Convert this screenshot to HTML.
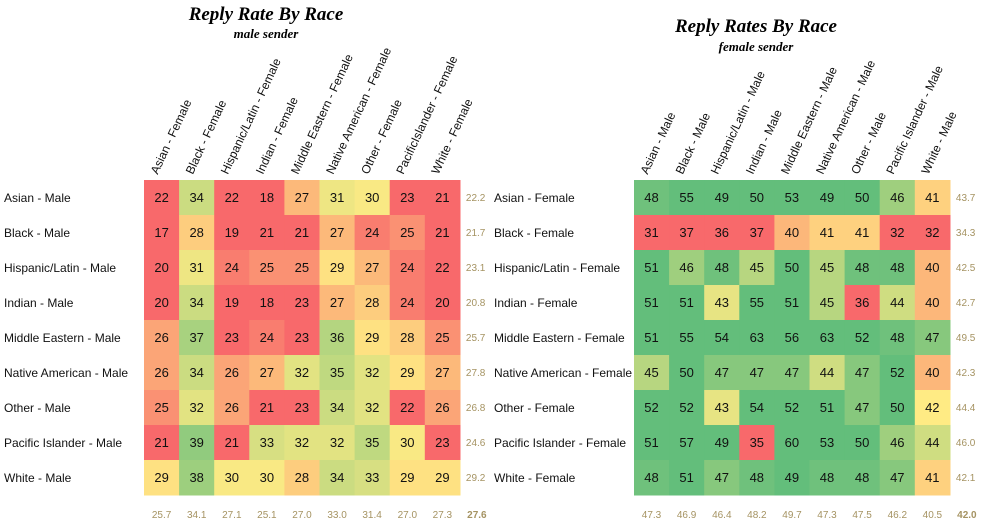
<!DOCTYPE html>
<html><head><meta charset="utf-8"><style>
body{margin:0;background:#fff;}
svg text{font-family:"Liberation Sans",sans-serif;}
.t{font-family:"Liberation Serif",serif;font-weight:bold;font-style:italic;}
</style></head><body>
<svg id="s" width="986" height="524" xmlns="http://www.w3.org/2000/svg">
<text class="t" x="266" y="20" font-size="19" text-anchor="middle">Reply Rate By Race</text>
<text class="t" x="266" y="38" font-size="13" text-anchor="middle">male sender</text>
<text class="t" x="756" y="32" font-size="19" text-anchor="middle">Reply Rates By Race</text>
<text class="t" x="756" y="51" font-size="13" text-anchor="middle">female sender</text>
</svg>
<script>
var L=[[22,34,22,18,27,31,30,23,21],[17,28,19,21,21,27,24,25,21],[20,31,24,25,25,29,27,24,22],[20,34,19,18,23,27,28,24,20],[26,37,23,24,23,36,29,28,25],[26,34,26,27,32,35,32,29,27],[25,32,26,21,23,34,32,22,26],[21,39,21,33,32,32,35,30,23],[29,38,30,30,28,34,33,29,29]];
var LR=["22.2","21.7","23.1","20.8","25.7","27.8","26.8","24.6","29.2"];
var LC=["25.7","34.1","27.1","25.1","27.0","33.0","31.4","27.0","27.3","27.6"];
var R=[[48,55,49,50,53,49,50,46,41],[31,37,36,37,40,41,41,32,32],[51,46,48,45,50,45,48,48,40],[51,51,43,55,51,45,36,44,40],[51,55,54,63,56,63,52,48,47],[45,50,47,47,47,44,47,52,40],[52,52,43,54,52,51,47,50,42],[51,57,49,35,60,53,50,46,44],[48,51,47,48,49,48,48,47,41]];
var RR=["43.7","34.3","42.5","42.7","49.5","42.3","44.4","46.0","42.1"];
var RC=["47.3","46.9","46.4","48.2","49.7","47.3","47.5","46.2","40.5","42.0"];
var races=["Asian","Black","Hispanic/Latin","Indian","Middle Eastern","Native American","Other","Pacific Islander","White"];
var colsL=["Asian - Female","Black - Female","Hispanic/Latin - Female","Indian - Female","Middle Eastern - Female","Native American - Female","Other - Female","PacificIslander - Female","White - Female"];
var colsR=races.map(function(r){return r+" - Male";});
function lerp(a,b,t){return [0,1,2].map(function(i){return Math.round(a[i]+(b[i]-a[i])*t);});}
var RED=[248,105,107],YEL=[255,235,132],GRN=[99,190,123];
function col(v,lo,mid,hi){var c;if(v<=mid){var t=Math.max(0,(v-lo)/(mid-lo));c=lerp(RED,YEL,t);}else{var t=Math.min(1,(v-mid)/(hi-mid));c=lerp(YEL,GRN,t);}return "rgb("+c.join(",")+")";}
var s=document.getElementById("s"),h="";
function grid(x0,D,RA,CA,cols,lo,mid,hi,lblX,lbls){
 var cw=35.1,rh=35,y0=180;
 for(var j=0;j<9;j++){for(var i=0;i<9;i++){
  var x=x0+cw*i,y=y0+rh*j;
  h+='<rect x="'+x.toFixed(1)+'" y="'+y+'" width="'+(cw+0.6).toFixed(1)+'" height="'+(rh+0.5)+'" fill="'+col(D[j][i],lo,mid,hi)+'"/>';
  h+='<text x="'+(x+cw/2).toFixed(1)+'" y="'+(y+22)+'" font-size="13" text-anchor="middle" fill="#111">'+D[j][i]+'</text>';}
  h+='<text x="'+(x0+cw*9+6)+'" y="'+(y0+rh*j+21)+'" font-size="10" fill="#A59362">'+RA[j]+'</text>';
  h+='<text x="'+lblX+'" y="'+(y0+rh*j+22)+'" font-size="12" fill="#111">'+lbls[j]+'</text>';}
 for(var i=0;i<10;i++){var cx=i<9?x0+cw*(i+0.5):x0+cw*9+17;
  h+='<text x="'+cx.toFixed(1)+'" y="518" font-size="10" text-anchor="middle" fill="#A59362"'+(i==9?' font-weight="bold"':'')+'>'+CA[i]+'</text>';}
 for(var i=0;i<9;i++){var cx=x0+cw*(i+0.5)-4;
  h+='<text transform="translate('+cx.toFixed(1)+',175) rotate(-65)" font-size="12" fill="#111">'+cols[i]+'</text>';}
}
grid(144,L,LR,LC,colsL,23,29.5,43,4,races.map(function(r){return r+" - Male";}));
grid(634,R,RR,RC,colsR,37,42,48.5,494,races.map(function(r){return r+" - Female";}));
s.insertAdjacentHTML("beforeend",h);
</script>
</body></html>
